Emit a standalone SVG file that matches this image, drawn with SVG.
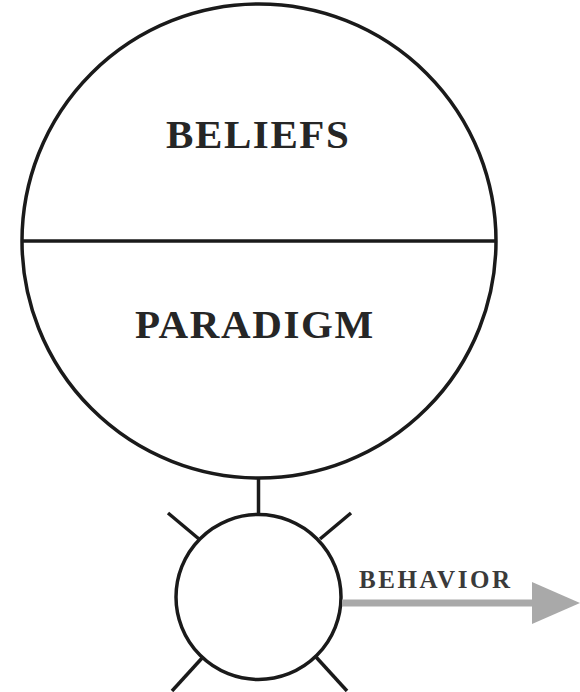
<svg xmlns="http://www.w3.org/2000/svg" width="580" height="692" viewBox="0 0 580 692">
<style>
.ln{fill:none;stroke:#1a1a1a;stroke-width:3.5}
.lbl{font-family:"Liberation Serif","Times New Roman",serif;font-weight:bold;fill:#262626}
.big{font-size:41px;letter-spacing:1.6px}
.sm{font-size:25px;letter-spacing:2.6px;fill:#3a3a3a}
</style>
<rect width="580" height="692" fill="#fff"/>
<g id="mind">
<circle class="ln" cx="259" cy="241" r="237"/>
<line class="ln" x1="21" y1="241" x2="497" y2="241"/>
<text class="lbl big" x="166" y="148">BELIEFS</text>
<text class="lbl big" x="135" y="338">PARADIGM</text>
</g>
<g id="self">
<circle class="ln" cx="258.5" cy="597" r="82.5"/>
<line class="ln" x1="168" y1="513" x2="199" y2="539"/>
<line class="ln" x1="351" y1="513" x2="320" y2="539"/>
<line class="ln" x1="172" y1="691" x2="203" y2="657"/>
<line class="ln" x1="347" y1="691" x2="316" y2="657"/>
</g>
<g id="connectors">
<line class="ln" x1="258.5" y1="477" x2="258.5" y2="515"/>
<line x1="342" y1="603" x2="536" y2="603" stroke="#a9a9a9" stroke-width="7"/>
<polygon points="532,582 580,603 532,624" fill="#a9a9a9"/>
<text class="lbl sm" x="359" y="588">BEHAVIOR</text>
</g>
</svg>
